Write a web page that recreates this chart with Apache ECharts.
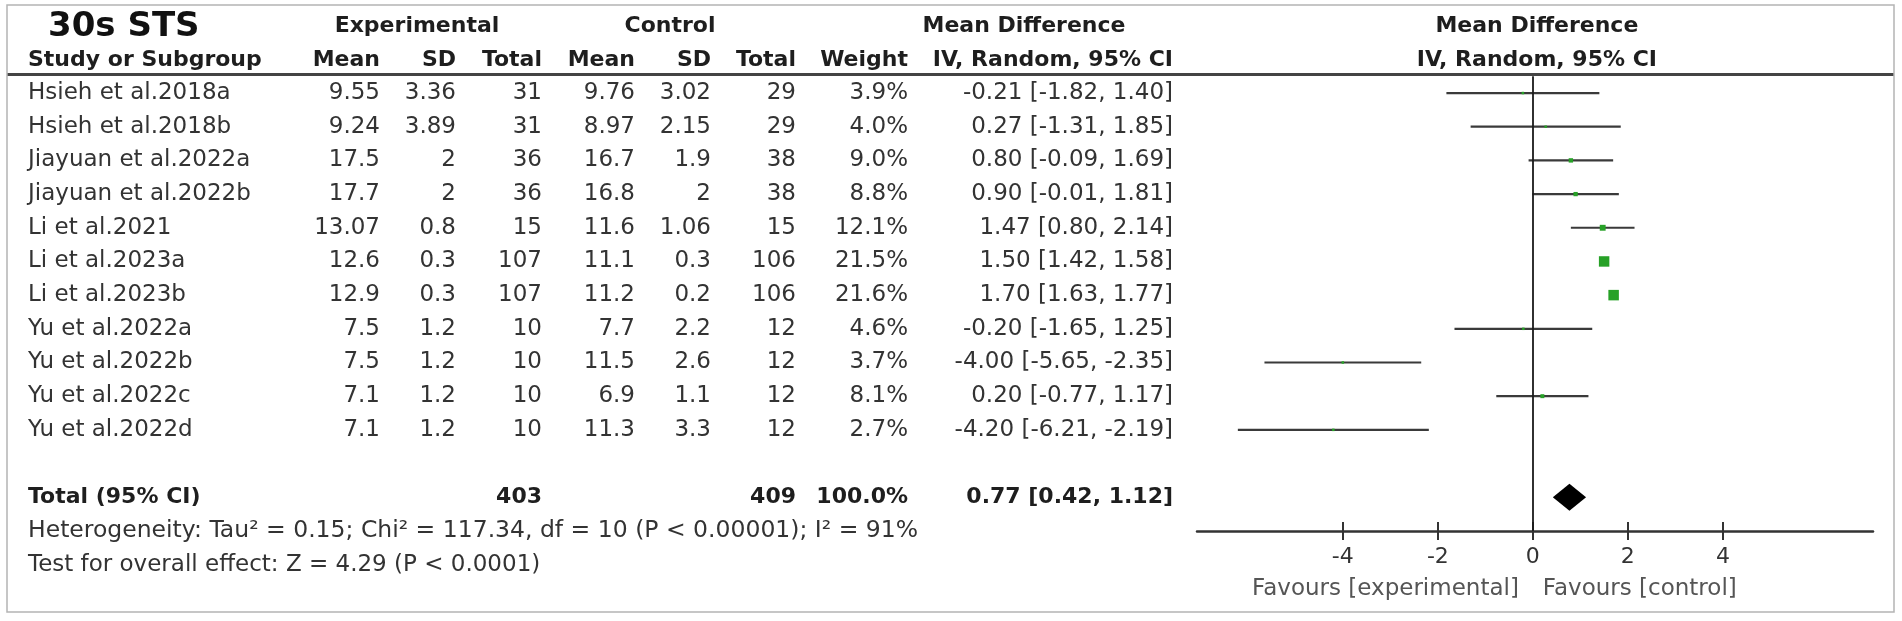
<!DOCTYPE html>
<html><head><meta charset="utf-8">
<script src="https://cdn.jsdelivr.net/npm/echarts@6/dist/echarts.min.js"></script>
<style>html,body{margin:0;padding:0;background:#fff}#c{width:1902px;height:621px}</style>
</head><body><div id="c"></div>
<script>
const studies = ['Hsieh et al.2018a','Hsieh et al.2018b','Jiayuan et al.2022a','Jiayuan et al.2022b','Li et al.2021','Li et al.2023a','Li et al.2023b','Yu et al.2022a','Yu et al.2022b','Yu et al.2022c','Yu et al.2022d'];
const expMean = [9.55, 9.24, 17.5, 17.7, 13.07, 12.6, 12.9, 7.5, 7.5, 7.1, 7.1];
const expSD = [3.36, 3.89, 2, 2, 0.8, 0.3, 0.3, 1.2, 1.2, 1.2, 1.2];
const expN = [31, 31, 36, 36, 15, 107, 107, 10, 10, 10, 10];
const ctlMean = [9.76, 8.97, 16.7, 16.8, 11.6, 11.1, 11.2, 7.7, 11.5, 6.9, 11.3];
const ctlSD = [3.02, 2.15, 1.9, 2, 1.06, 0.3, 0.2, 2.2, 2.6, 1.1, 3.3];
const ctlN = [29, 29, 38, 38, 15, 106, 106, 12, 12, 12, 12];
const weights = [3.9, 4.0, 9.0, 8.8, 12.1, 21.5, 21.6, 4.6, 3.7, 8.1, 2.7];
const md = [-0.21, 0.27, 0.80, 0.90, 1.47, 1.50, 1.70, -0.20, -4.00, 0.20, -4.20];
const ciLow = [-1.82, -1.31, -0.09, -0.01, 0.80, 1.42, 1.63, -1.65, -5.65, -0.77, -6.21];
const ciHigh = [1.40, 1.85, 1.69, 1.81, 2.14, 1.58, 1.77, 1.25, -2.35, 1.17, -2.19];
const totalLabel = 'Total (95% CI)';
const totalExpN = 403, totalCtlN = 409, totalWeight = 100.0;
const totalMD = 0.77, totalLow = 0.42, totalHigh = 1.12;
const heterogeneity = 'Heterogeneity: Tau² = 0.15; Chi² = 117.34, df = 10 (P < 0.00001); I² = 91%';
const overallTest = 'Test for overall effect: Z = 4.29 (P < 0.0001)';
const tickValues = [-4, -2, 0, 2, 4];
const favourLeft = 'Favours [experimental]';
const favourRight = 'Favours [control]';
const totalRow = 12;

const REG = 'DejaVu Sans';
const chart = echarts.init(document.getElementById('c'), null, {renderer:'canvas'});

const xAxisBase = {type:'value', min:-7.07, max:7.16, gridIndex:0, splitLine:{show:false}};
const option = {
  animation:false,
  backgroundColor:'#fff',
  grid:{left:1197, right:29, top:76.2, bottom:90.1, containLabel:false},
  xAxis:[
    Object.assign({}, xAxisBase, {
      position:'bottom',
      axisLine:{show:true, onZero:false, lineStyle:{color:'#333', width:2.5}},
      axisTick:{show:true, customValues:tickValues, length:9, lineStyle:{color:'#333', width:2}},
      axisLabel:{show:true, customValues:tickValues, margin:15, fontFamily:REG, fontSize:22, color:'#333'}
    }),
    Object.assign({}, xAxisBase, {
      position:'bottom',
      axisLine:{show:false, onZero:false},
      axisTick:{show:true, inside:true, customValues:tickValues, length:9, lineStyle:{color:'#333', width:2}},
      axisLabel:{show:false}
    })
  ],
  yAxis:{type:'value', min:-0.5, max:13, inverse:true, show:false},
  series:[
    {
      type:'custom', name:'ci', z:3,
      renderItem:function(params, api){
        const a = api.coord([api.value(0), api.value(2)]);
        const b = api.coord([api.value(1), api.value(2)]);
        return {type:'line', shape:{x1:a[0], y1:a[1], x2:b[0], y2:b[1]}, style:{stroke:'#3a3a3a', lineWidth:2.2}};
      },
      data: studies.map((s,i)=>[ciLow[i], ciHigh[i], i]),
      markLine:{
        silent:true, symbol:['none','none'], label:{show:false},
        lineStyle:{color:'#1a1a1a', width:1.8, type:'solid'},
        data:[[{coord:[0,-0.5]},{coord:[0,13]}]]
      }
    },
    {
      type:'scatter', name:'md', z:4, symbol:'rect',
      symbolSize:function(v){ return Math.max(2.5, v[2]/21.6*10.5); },
      itemStyle:{color:'#27a127', opacity:1},
      data: studies.map((s,i)=>[md[i], i, weights[i]])
    },
    {
      type:'custom', name:'total', z:5,
      renderItem:function(params, api){
        const l = api.coord([api.value(0), api.value(3)]);
        const m = api.coord([api.value(1), api.value(3)]);
        const h = api.coord([api.value(2), api.value(3)]);
        const hh = 13.5;
        return {type:'polygon', shape:{points:[[l[0],l[1]],[m[0],m[1]-hh],[h[0],h[1]],[m[0],m[1]+hh]]}, style:{fill:'#000'}};
      },
      data:[[totalLow, totalMD, totalHigh, totalRow]]
    }
  ]
};
chart.setOption(option);

const colRight = [380, 456, 542, 635, 711, 796, 908, 1173];
const nameX = 28;
const rowY = i => chart.convertToPixel({yAxisIndex:0}, i);
const els = [];
function txt(s, x, y, opts){
  opts = opts || {};
  els.push({type:'text', x:x, y:y, silent:true, style:{
    text:s, fontFamily:opts.family||REG, fontSize:opts.size||23, fontWeight:opts.weight||'normal',
    fill:opts.color||'#333', align:opts.align||'left', verticalAlign:'middle'}});
}
const f2 = v => v.toFixed(2);
const ciStr = (m,l,h) => f2(m)+' ['+f2(l)+', '+f2(h)+']';
const B = {weight:'bold', size:22, color:'#1e1e1e'};

txt('30s STS', 48, 27, {weight:'bold', size:34, color:'#111'});
txt('Experimental', 417, 26, Object.assign({align:'center'}, B));
txt('Control', 670, 26, Object.assign({align:'center'}, B));
txt('Mean Difference', 1024, 26, Object.assign({align:'center'}, B));
const zeroX = chart.convertToPixel({xAxisIndex:0}, 0);
txt('Mean Difference', zeroX + 4, 26, Object.assign({align:'center'}, B));
txt('Study or Subgroup', nameX, 60, B);
const hdr = ['Mean','SD','Total','Mean','SD','Total','Weight','IV, Random, 95% CI'];
hdr.forEach((h,k)=>txt(h, colRight[k], 60, Object.assign({align:'right'}, B)));
txt('IV, Random, 95% CI', zeroX + 4, 60, Object.assign({align:'center'}, B));

studies.forEach((s,i)=>{
  const y = rowY(i);
  txt(s, nameX, y);
  const vals = [String(expMean[i]), String(expSD[i]), String(expN[i]), String(ctlMean[i]), String(ctlSD[i]), String(ctlN[i]), weights[i].toFixed(1)+'%', ciStr(md[i], ciLow[i], ciHigh[i])];
  vals.forEach((v,k)=>txt(v, colRight[k], y, {align:'right'}));
});
const ty = rowY(totalRow);
txt(totalLabel, nameX, ty, B);
txt(String(totalExpN), colRight[2], ty, Object.assign({align:'right'}, B));
txt(String(totalCtlN), colRight[5], ty, Object.assign({align:'right'}, B));
txt(totalWeight.toFixed(1)+'%', colRight[6], ty, Object.assign({align:'right'}, B));
txt(ciStr(totalMD, totalLow, totalHigh), colRight[7], ty, Object.assign({align:'right'}, B));
txt(heterogeneity, nameX, rowY(13), {size:23.5});
txt(overallTest, nameX, rowY(14), {});
txt(favourLeft, zeroX - 14, 589, {align:'right', size:23, color:'#555'});
txt(favourRight, zeroX + 10, 589, {align:'left', size:23, color:'#555'});
els.push({type:'line', silent:true, shape:{x1:7, y1:74.5, x2:1894, y2:74.5}, style:{stroke:'#444', lineWidth:3}});
els.push({type:'rect', silent:true, shape:{x:7, y:5, width:1887, height:607}, style:{fill:'none', stroke:'#b4b4b4', lineWidth:1.5}});
chart.setOption({graphic:{elements:els}});
</script>
</body></html>
